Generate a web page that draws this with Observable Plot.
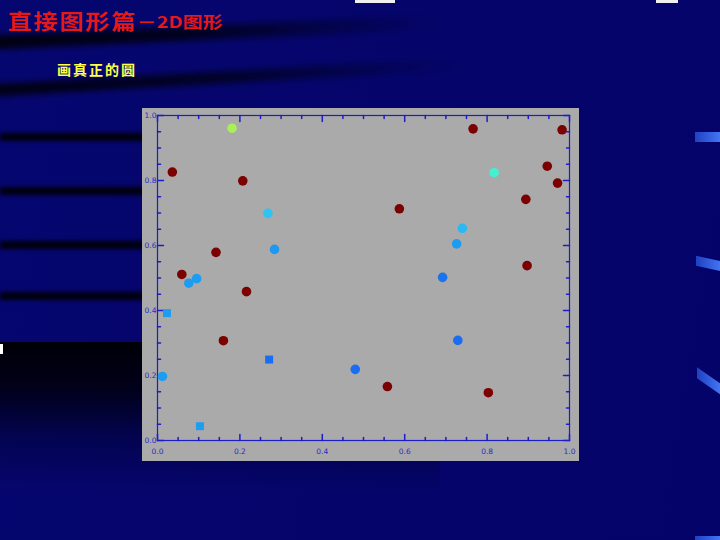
<!DOCTYPE html>
<html>
<head>
<meta charset="utf-8">
<script src="https://cdn.jsdelivr.net/npm/d3@7"></script>
<script src="https://cdn.jsdelivr.net/npm/@observablehq/plot@0.6"></script>
<style>
html,body{margin:0;padding:0;}
body{width:720px;height:540px;overflow:hidden;position:relative;background:#05056c;font-family:"Noto Sans CJK SC",sans-serif;}
.deco{position:absolute;}
.t{position:absolute;white-space:nowrap;transform-origin:0 0;line-height:1;}
#chart{position:absolute;left:142px;top:108px;}
</style>
</head>
<body>
<!-- background decoration -->
<div class="deco" style="left:0;top:0;width:720px;height:540px;background:linear-gradient(100deg,#060670 0%,#04046a 60%,#03036a 100%);"></div>
<div class="deco" style="left:-20px;top:36px;width:460px;height:14px;transform:rotate(-2.6deg);transform-origin:0 0;background:linear-gradient(90deg,rgba(0,0,10,0.95) 0%,rgba(0,0,10,0.8) 45%,rgba(0,0,10,0) 100%);filter:blur(3px);border-radius:8px;"></div>
<div class="deco" style="left:-20px;top:85px;width:480px;height:12px;transform:rotate(-3.2deg);transform-origin:0 0;background:linear-gradient(90deg,rgba(0,0,10,0.95) 0%,rgba(0,0,10,0.7) 50%,rgba(0,0,10,0) 100%);filter:blur(3px);border-radius:8px;"></div>
<div class="deco" style="left:0;top:133px;width:150px;height:8px;background:#00000c;filter:blur(2px);"></div>
<div class="deco" style="left:0;top:187px;width:150px;height:8px;background:#00000c;filter:blur(2px);"></div>
<div class="deco" style="left:0;top:241px;width:150px;height:8px;background:#00000c;filter:blur(2px);"></div>
<div class="deco" style="left:0;top:292px;width:150px;height:8px;background:#00000c;filter:blur(2px);"></div>
<div class="deco" style="left:0;top:342px;width:440px;height:150px;background:linear-gradient(180deg,rgba(0,0,8,1) 0%,rgba(0,0,18,0.92) 30%,rgba(2,2,60,0.55) 65%,rgba(5,5,108,0) 100%);border-top-right-radius:300px 14px;"></div>
<div class="deco" style="left:0;top:344px;width:3px;height:10px;background:#ffffff;"></div>
<div class="deco" style="left:355px;top:0;width:40px;height:3px;background:#f0f0f0;"></div>
<div class="deco" style="left:656px;top:0;width:22px;height:3px;background:#f0f0f0;"></div>
<div class="deco" style="left:695px;top:132px;width:30px;height:10px;background:linear-gradient(90deg,#2040c0,#4a80ff);"></div>
<div class="deco" style="left:696px;top:259px;width:30px;height:10px;transform:skewY(12deg);background:linear-gradient(90deg,#2040c0,#4a80ff);"></div>
<div class="deco" style="left:697px;top:377px;width:28px;height:11px;transform:skewY(35deg);background:linear-gradient(90deg,#2040c0,#4a80ff);"></div>
<div class="deco" style="left:695px;top:536px;width:30px;height:6px;background:linear-gradient(90deg,#2040c0,#4a80ff);"></div>

<div class="t" style="left:8px;top:10px;font-size:21px;font-weight:bold;color:#e81818;letter-spacing:1.5px;transform:scaleX(1.15);">直接图形篇</div>
<div class="t" style="left:137px;top:13px;font-size:16px;font-weight:bold;color:#e81818;transform:scaleX(1.25);">－2D图形</div>
<div class="t" style="left:57px;top:62px;font-size:14px;font-weight:bold;color:#ffff48;letter-spacing:2px;">画真正的圆</div>

<div id="chart"></div>
<script>
// ---- data ----
const xs = [0.181, 0.036, 0.207, 0.268, 0.284, 0.142, 0.059, 0.095, 0.076, 0.216,
            0.023, 0.160, 0.271, 0.012, 0.103, 0.480, 0.558, 0.587, 0.766, 0.817,
            0.740, 0.726, 0.692, 0.729, 0.803, 0.894, 0.897, 0.946, 0.971, 0.982];
const ys = [0.961, 0.826, 0.799, 0.699, 0.588, 0.579, 0.511, 0.498, 0.484, 0.458,
            0.392, 0.307, 0.249, 0.197, 0.044, 0.219, 0.166, 0.713, 0.959, 0.824,
            0.653, 0.605, 0.502, 0.308, 0.147, 0.742, 0.538, 0.844, 0.792, 0.956];
const colors = ["#a8f058", "#7c0000", "#7c0000", "#2cc4f2", "#1e98f0", "#7c0000", "#7c0000", "#1e9cf0", "#1e9cf0", "#7c0000",
                "#1e9cf0", "#7c0000", "#1a6cf0", "#1e9cf0", "#1e9cf0", "#1a6cf0", "#7c0000", "#7c0000", "#7c0000", "#44f0d0",
                "#2cb8f2", "#1e9cf0", "#1a74f0", "#1a6cf0", "#7c0000", "#7c0000", "#7c0000", "#7c0000", "#7c0000", "#7c0000"];
const shapes = ["circle","circle","circle","circle","circle","circle","circle","circle","circle","circle",
                "square","circle","square","circle","square","circle","circle","circle","circle","circle",
                "circle","circle","circle","circle","circle","circle","circle","circle","circle","circle"];
const majorTicks = [0, 0.2, 0.4, 0.6, 0.8, 1.0];
const tickLabels = ["0.0", "0.2", "0.4", "0.6", "0.8", "1.0"];
const minorTicks = [0.05, 0.1, 0.15, 0.25, 0.3, 0.35, 0.45, 0.5, 0.55, 0.65, 0.7, 0.75, 0.85, 0.9, 0.95];

const points = xs.map((x, i) => ({x, y: ys[i], color: colors[i], shape: shapes[i]}));
const labels = majorTicks.map((v, i) => ({v, label: tickLabels[i]}));

const axisColor = "#1c1cc8";
const labelColor = "#2a2ac4";
const tickShape = {draw(ctx, l) { ctx.moveTo(0, 0); ctx.lineTo(0, -l); }};

function ticks(data, len) {
  return [
    Plot.vector(data, {x: d => d, frameAnchor: "bottom", rotate: 0, length: len, anchor: "start", shape: tickShape, stroke: axisColor}),
    Plot.vector(data, {x: d => d, frameAnchor: "top", rotate: 180, length: len, anchor: "start", shape: tickShape, stroke: axisColor}),
    Plot.vector(data, {y: d => d, frameAnchor: "left", rotate: 90, length: len, anchor: "start", shape: tickShape, stroke: axisColor}),
    Plot.vector(data, {y: d => d, frameAnchor: "right", rotate: -90, length: len, anchor: "start", shape: tickShape, stroke: axisColor})
  ];
}

const chart = Plot.plot({
  width: 437,
  height: 353,
  marginLeft: 15,
  marginRight: 10,
  marginTop: 7,
  marginBottom: 21,
  x: {domain: [0, 1], axis: null},
  y: {domain: [0, 1], axis: null},
  style: {background: "#aaaaaa", fontFamily: "DejaVu Sans", fontSize: "7.5px"},
  marks: [
    Plot.frame({stroke: axisColor, strokeWidth: 1.2}),
    ...ticks(minorTicks, 3),
    ...ticks(majorTicks, 6),
    Plot.text(labels, {x: "v", frameAnchor: "bottom", dy: 13, text: "label", fill: labelColor}),
    Plot.text(labels, {y: "v", frameAnchor: "left", dx: -1, textAnchor: "end", text: "label", fill: labelColor}),
    Plot.dot(points.filter(d => d.shape === "circle"), {x: "x", y: "y", r: 4.8, fill: d => d.color, symbol: "circle"}),
    Plot.dot(points.filter(d => d.shape === "square"), {x: "x", y: "y", r: 4.5, fill: d => d.color, symbol: "square"})
  ]
});
document.getElementById("chart").appendChild(chart);
</script>
</body>
</html>
